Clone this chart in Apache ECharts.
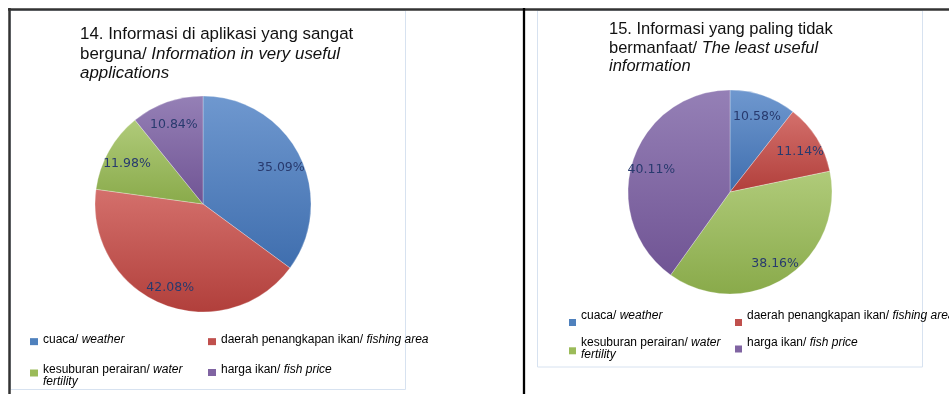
<!DOCTYPE html>
<html>
<head>
<meta charset="utf-8">
<script src="https://cdn.jsdelivr.net/npm/echarts@6/dist/echarts.min.js"></script>
<style>
  html, body { margin: 0; padding: 0; background: #ffffff; }
  #chart { width: 949px; height: 394px; }
</style>
</head>
<body>
<div id="chart"></div>
<script>
// Survey answer categories (Indonesian / English)
const categories = ['cuaca', 'daerah penangkapan ikan', 'kesuburan perairan', 'harga ikan'];
const categoriesEn = ['weather', 'fishing area', 'water\nfertility', 'fish price'];

// Q14: most useful information in the app (%)
const usefulValues = [35.09, 42.08, 11.98, 10.84];
// Q15: least useful information (%)
const leastUsefulValues = [10.58, 11.14, 38.16, 40.11];

// Slice palette: flat colour for legend keys, light/dark stops for slice shading
const baseColors = ['#4f81bd', '#c0504d', '#9bbb59', '#8064a2'];
const lightColors = ['#6f98cf', '#d4706c', '#b0cb7a', '#9580b6'];
const darkColors = ['#3f6eae', '#b13f3b', '#89aa4a', '#705494'];

function shade(i) {
  return new echarts.graphic.LinearGradient(0, 0, 0, 1, [
    { offset: 0, color: lightColors[i] },
    { offset: 1, color: darkColors[i] }
  ]);
}

function pieSeries(values, center, radius) {
  return {
    type: 'pie',
    center: center,
    radius: radius,
    startAngle: 90,
    clockwise: true,
    silent: true,
    avoidLabelOverlap: false,
    label: { show: false },
    labelLine: { show: false },
    itemStyle: { borderColor: 'rgba(255,255,255,0.35)', borderWidth: 0.8 },
    data: values.map((v, i) => ({ name: categories[i], value: v, itemStyle: { color: shade(i) } }))
  };
}

// Transparent companion ring whose inside labels sit at `fraction` of the pie radius
function labelSeries(values, center, radius, fraction) {
  return {
    type: 'pie',
    center: center,
    radius: radius * 2 * fraction,
    startAngle: 90,
    clockwise: true,
    silent: true,
    avoidLabelOverlap: false,
    itemStyle: { color: 'rgba(0,0,0,0)', borderWidth: 0 },
    label: {
      show: true,
      position: 'inside',
      offset: [0, 3],
      formatter: p => p.value.toFixed(2) + '%',
      fontFamily: 'DejaVu Sans',
      fontSize: 12.5,
      color: '#283a6e'
    },
    labelLine: { show: false },
    data: values.map((v, i) => ({ name: categories[i], value: v }))
  };
}

const legendRich = {
  n: { fontFamily: 'Liberation Sans', fontSize: 12, lineHeight: 12.3, color: '#000' },
  i: { fontFamily: 'Liberation Sans', fontSize: 12, lineHeight: 12.3, color: '#000', fontStyle: 'italic' }
};

function legendItem(i, left, top, padding, iconW, iconH) {
  return {
    left: left,
    top: top,
    padding: 0,
    orient: 'vertical',
    itemWidth: iconW,
    itemHeight: iconH,
    selectedMode: false,
    formatter: name => {
      const k = categories.indexOf(name);
      return '{n|' + name + '/ }{i|' + categoriesEn[k] + '}';
    },
    textStyle: {
      fontFamily: 'Liberation Sans', fontSize: 12, lineHeight: 12.3, color: '#000',
      padding: padding, rich: legendRich
    },
    data: [{ name: categories[i], icon: 'rect', itemStyle: { color: baseColors[i], borderWidth: 0 } }]
  };
}

function titleRich(size, lh) {
  return {
    n: { fontFamily: 'Liberation Sans', fontSize: size, lineHeight: lh, color: '#111', fontWeight: 'normal' },
    i: { fontFamily: 'Liberation Sans', fontSize: size, lineHeight: lh, color: '#111', fontWeight: 'normal', fontStyle: 'italic' }
  };
}

const chart = echarts.init(document.getElementById('chart'), null, { renderer: 'canvas' });

chart.setOption({
  animation: false,
  backgroundColor: '#ffffff',
  title: [
    {
      left: 80, top: 25, padding: 0,
      text: '{n|14. Informasi di aplikasi yang sangat}\n{n|berguna/ }{i|Information in very useful}\n{i|applications}',
      textStyle: { fontWeight: 'normal', rich: titleRich(16.9, 19.5) }
    },
    {
      left: 609, top: 20.5, padding: 0,
      text: '{n|15. Informasi yang paling tidak}\n{n|bermanfaat/ }{i|The least useful}\n{i|information}',
      textStyle: { fontWeight: 'normal', rich: titleRich(16.5, 18.5) }
    }
  ],
  legend: [
    legendItem(0, 30, 333.5, [0, 0, 4, 0], 8, 7),
    legendItem(1, 208, 333.5, [0, 0, 4, 0], 8, 7),
    legendItem(2, 30, 357.7, [6, 0, 0, 0], 8, 7),
    legendItem(3, 208, 363.85, [0, 0, 5, 0], 8, 7),
    legendItem(0, 569, 309.85, [0, 0, 13, 0], 7, 7),
    legendItem(1, 735, 309.85, [0, 0, 13, 0], 7, 7),
    legendItem(2, 569, 336.7, [0, 0, 3.6, 0], 7, 7),
    legendItem(3, 735, 336.85, [0, 0, 12, 0], 7, 7)
  ],
  series: [
    pieSeries(usefulValues, [203, 204], 108),
    pieSeries(leastUsefulValues, [730, 192], 102),
    labelSeries(usefulValues, [203, 204], 108, 0.78),
    labelSeries(leastUsefulValues, [730, 192], 102, 0.78)
  ],
  graphic: [
    // light chart-area frames
    { type: 'rect', silent: true, z: -10, shape: { x: 10.5, y: 10.5, width: 395, height: 379 },
      style: { fill: 'none', stroke: '#d7e2f0', lineWidth: 1 } },
    { type: 'rect', silent: true, z: -10, shape: { x: 537.5, y: 10.5, width: 385, height: 356.5 },
      style: { fill: 'none', stroke: '#d7e2f0', lineWidth: 1 } },
    // table borders
    { type: 'line', silent: true, z: 50, shape: { x1: 8, y1: 9.5, x2: 949, y2: 9.5 },
      style: { stroke: '#333333', lineWidth: 2.5 } },
    { type: 'line', silent: true, z: 50, shape: { x1: 9.5, y1: 8, x2: 9.5, y2: 394 },
      style: { stroke: '#333333', lineWidth: 2.5 } },
    { type: 'line', silent: true, z: 50, shape: { x1: 524, y1: 8, x2: 524, y2: 394 },
      style: { stroke: '#000000', lineWidth: 2.3 } }
  ]
});
</script>
</body>
</html>
